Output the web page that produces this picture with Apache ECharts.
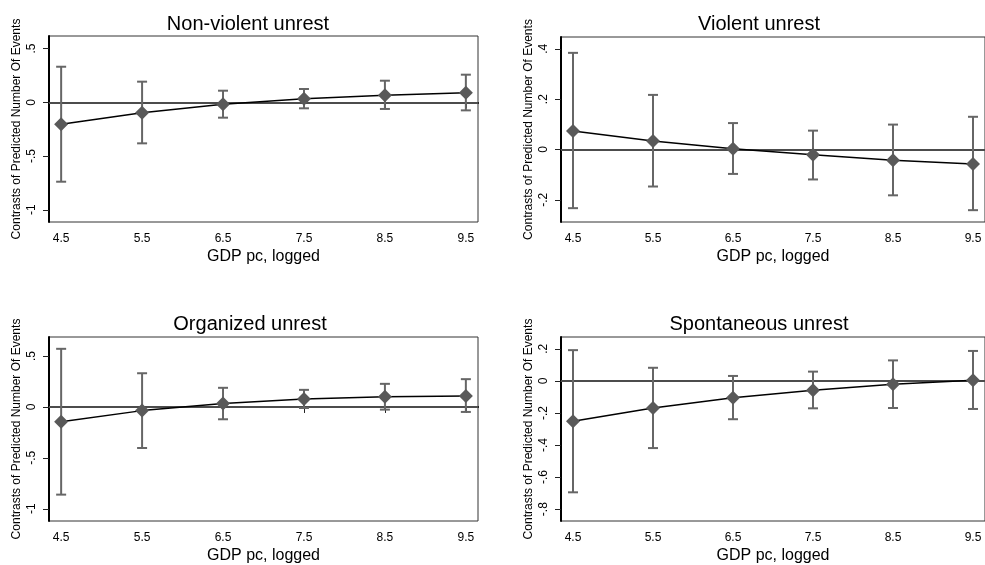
<!DOCTYPE html>
<html><head><meta charset="utf-8">
<script src="https://cdn.jsdelivr.net/npm/echarts@6/dist/echarts.min.js"></script>
<style>html,body{margin:0;padding:0;background:#fff;}#c{width:985px;height:565px;}</style>
</head><body><div id="c"></div>
<script>
const xVals = [4.5, 5.5, 6.5, 7.5, 8.5, 9.5];
const xTicks = [4.5, 5.5, 6.5, 7.5, 8.5, 9.5];

const titles = ["Non-violent unrest", "Violent unrest", "Organized unrest", "Spontaneous unrest"];

const nonViolentEst = [-0.205, -0.097, -0.019, 0.034, 0.065, 0.089];
const nonViolentLo  = [-0.739, -0.382, -0.143, -0.056, -0.062, -0.075];
const nonViolentHi  = [0.331, 0.192, 0.108, 0.124, 0.201, 0.257];

const violentEst = [0.074, 0.034, 0.003, -0.021, -0.043, -0.058];
const violentLo  = [-0.233, -0.147, -0.097, -0.119, -0.182, -0.241];
const violentHi  = [0.384, 0.217, 0.105, 0.075, 0.099, 0.130];

const organizedEst = [-0.146, -0.036, 0.035, 0.078, 0.100, 0.107];
const organizedLo  = [-0.861, -0.403, -0.121, -0.010, -0.026, -0.049];
const organizedHi  = [0.571, 0.331, 0.188, 0.168, 0.227, 0.273];

const spontEst = [-0.252, -0.169, -0.105, -0.058, -0.021, 0.004];
const spontLo  = [-0.695, -0.419, -0.239, -0.171, -0.169, -0.175];
const spontHi  = [0.192, 0.082, 0.031, 0.058, 0.128, 0.187];

const yTicks = [
  [-1, -0.5, 0, 0.5],
  [-0.2, 0, 0.2, 0.4],
  [-1, -0.5, 0, 0.5],
  [-0.8, -0.6, -0.4, -0.2, 0, 0.2]
];
const yRanges = [[-1.114, 0.617], [-0.288, 0.447], [-1.12, 0.687], [-0.874, 0.274]];

const panels = [
  [nonViolentEst, nonViolentLo, nonViolentHi],
  [violentEst, violentLo, violentHi],
  [organizedEst, organizedLo, organizedHi],
  [spontEst, spontLo, spontHi]
];

const grids = [
  {left: 49, top: 36, width: 429, height: 186},
  {left: 561, top: 37, width: 428, height: 185},
  {left: 49, top: 337, width: 429, height: 185},
  {left: 561, top: 337, width: 428, height: 185}
];
const titleCenters = [[243, 9], [754, 9], [245, 309], [754, 309]];

function fmt(v) {
  if (Math.abs(v) < 1e-9) return "0";
  let s = String(Math.round(v * 10) / 10);
  return s.replace(/^(-?)0\./, "$1.");
}

const FONT = "Liberation Sans, Arial, sans-serif";
const option = {
  animation: false,
  backgroundColor: "#fff",
  grid: grids.map(g => Object.assign({show: true, borderColor: "#333", borderWidth: 1, backgroundColor: "#fff"}, g)),
  title: titles.map((t, i) => ({
    text: t, left: titleCenters[i][0], top: titleCenters[i][1], textAlign: "center",
    textStyle: {fontFamily: FONT, fontSize: 20, fontWeight: "normal", color: "#000"}
  })),
  xAxis: grids.map((g, i) => ({
    gridIndex: i, type: "value", min: 4.35, max: 9.65,
    name: "GDP pc, logged", nameLocation: "middle", nameGap: 27,
    nameTextStyle: {fontFamily: FONT, fontSize: 16, color: "#000"},
    axisLine: {show: true, lineStyle: {color: "#000", width: 2}},
    axisTick: {show: true, length: 6, lineStyle: {color: "#222", width: 1}, customValues: xTicks},
    axisLabel: {fontFamily: FONT, fontSize: 12, color: "#000", margin: 11, customValues: xTicks,
      formatter: v => v.toFixed(1)},
    splitLine: {show: false}
  })),
  yAxis: grids.map((g, i) => ({
    gridIndex: i, type: "value", min: yRanges[i][0], max: yRanges[i][1],
    name: "Contrasts of Predicted Number Of Events", nameLocation: "middle", nameGap: 26,
    nameTextStyle: {fontFamily: FONT, fontSize: 12, color: "#000"},
    axisLine: {show: true, lineStyle: {color: "#000", width: 2}},
    axisTick: {show: true, length: 6, lineStyle: {color: "#222", width: 1}, customValues: yTicks[i]},
    axisLabel: {fontFamily: FONT, fontSize: 12, color: "#000", rotate: 90, margin: 11,
      customValues: yTicks[i], formatter: fmt},
    splitLine: {show: false}
  })),
  series: []
};

panels.forEach((p, i) => {
  const [est, lo, hi] = p;
  option.series.push({
    type: "custom", xAxisIndex: i, yAxisIndex: i, z: 3,
    data: xVals.map((x, k) => [x, lo[k], hi[k]]),
    renderItem: function (params, api) {
      const x = api.value(0);
      const a = api.coord([x, api.value(1)]);
      const b = api.coord([x, api.value(2)]);
      const hw = 5;
      const st = {stroke: "#666", lineWidth: 2, fill: null};
      return {type: "group", children: [
        {type: "line", shape: {x1: a[0], y1: a[1], x2: b[0], y2: b[1]}, style: st},
        {type: "line", shape: {x1: a[0] - hw, y1: a[1], x2: a[0] + hw, y2: a[1]}, style: st},
        {type: "line", shape: {x1: b[0] - hw, y1: b[1], x2: b[0] + hw, y2: b[1]}, style: st}
      ]};
    }
  });
  option.series.push({
    type: "line", xAxisIndex: i, yAxisIndex: i, z: 4,
    data: xVals.map((x, k) => [x, est[k]]),
    symbol: "diamond", symbolSize: 14, showSymbol: true,
    lineStyle: {color: "#000", width: 1.5},
    itemStyle: {color: "#595959", borderWidth: 0},
    markLine: {
      silent: true, symbol: "none", label: {show: false}, z: 2,
      lineStyle: {color: "#666", width: 1.5, type: "solid"},
      data: [{yAxis: 0}]
    }
  });
});

const chart = echarts.init(document.getElementById("c"), null, {renderer: "canvas"});
chart.setOption(option);
</script></body></html>
